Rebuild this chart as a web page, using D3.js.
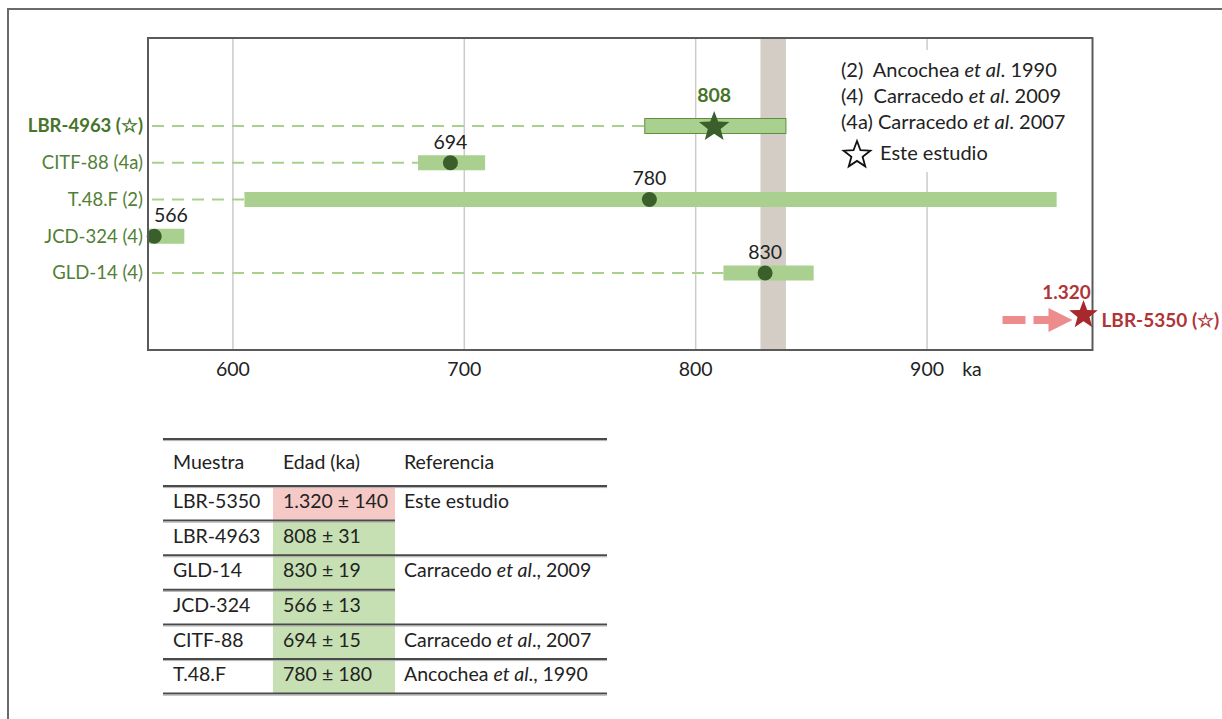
<!DOCTYPE html>
<html><head><meta charset="utf-8">
<script src="https://cdn.jsdelivr.net/npm/d3@7/dist/d3.min.js"></script>
<style>
html,body{margin:0;padding:0;background:#fff;}
svg{display:block;font-family:Lato,"Open Sans",sans-serif;}
</style></head>
<body><svg id="c" width="1222" height="719"></svg>
<script>
// ---- data ----
const xTicks = [600, 700, 800, 900];
const sampleLabels = ["LBR-4963 (☆)", "CITF-88 (4a)", "T.48.F (2)", "JCD-324 (4)", "GLD-14 (4)"];
const ages = [808, 694, 780, 566, 830];
const barLo = [778, 680, 605, 553, 812];
const barHi = [839, 709, 956, 579, 851];
const isThisStudy = [true, false, false, false, false];
const bandRange = [828, 839];
const offLabel = "LBR-5350 (☆)";
const offValueText = "1.320";
const legendLines = [
  ["(2)  Ancochea ", "et al", ". 1990"],
  ["(4)  Carracedo ", "et al", ". 2009"],
  ["(4a) Carracedo ", "et al", ". 2007"]
];
const legendStarText = "Este estudio";
const tableHeader = ["Muestra", "Edad (ka)", "Referencia"];
const tSamples = ["LBR-5350", "LBR-4963", "GLD-14", "JCD-324", "CITF-88", "T.48.F"];
const tAges = ["1.320 ± 140", "808 ± 31", "830 ± 19", "566 ± 13", "694 ± 15", "780 ± 180"];
const tRefs = [["Este estudio"], [], ["Carracedo ", "et al", "., 2009"], [], ["Carracedo ", "et al", "., 2007"], ["Ancochea ", "et al", "., 1990"]];
const tAgeFill = ["pink", "green", "green", "green", "green", "green"];

// ---- styles ----
const C = {
  bar: "#a9d08e", barStroke: "#5e8f3f", point: "#3a5f2a", lbl: "#527f36", lblBold: "#46752a",
  band: "#d3cdc6", grid: "#cbcbcb", frame: "#5a5a5a", text: "#222",
  red: "#a7282d", redText: "#b03438", arrow: "#ec8c8c", pink: "#f5c9c6", green: "#c6e0b3"
};
const FS = {val: 19.5, axis: 19.5, ylab: 18.5, legend: 20, table: 19.5, off: 19};

const svg = d3.select("#c");
svg.append("rect").attr("x", 8).attr("y", 9).attr("width", 1300).attr("height", 800)
  .attr("fill", "none").attr("stroke", "#6a6a6a").attr("stroke-width", 2);

const P = {l: 148, r: 1092.5, t: 38, b: 350};
const x = d3.scaleLinear().domain([563.3, 971.5]).range([P.l, P.r]);
const y = d3.scalePoint().domain(d3.range(sampleLabels.length)).range([126, 273]);
const yOff = 319;

function starPath(R) {
  const r = R * 0.42, pts = [];
  for (let i = 0; i < 10; i++) {
    const a = -Math.PI / 2 + i * Math.PI / 5, rr = i % 2 ? r : R;
    pts.push([rr * Math.cos(a), rr * Math.sin(a)]);
  }
  return "M" + pts.map(p => p.join(",")).join("L") + "Z";
}

// band
svg.append("rect").attr("x", x(bandRange[0])).attr("y", P.t)
  .attr("width", x(bandRange[1]) - x(bandRange[0])).attr("height", P.b - P.t).attr("fill", C.band);
// grid
svg.selectAll(".g").data(xTicks).enter().append("line")
  .attr("x1", d => x(d)).attr("x2", d => x(d)).attr("y1", P.t).attr("y2", P.b)
  .attr("stroke", C.grid).attr("stroke-width", 1.5);

// legend (white box covers gridline)
const lg = svg.append("g");
lg.append("rect").attr("x", 832).attr("y", 50).attr("width", 245).attr("height", 122).attr("fill", "#fff");
legendLines.forEach((ln, i) => {
  const t = lg.append("text").attr("x", 841).attr("y", 70 + i * 26).attr("dy", "0.35em")
    .attr("font-size", FS.legend).attr("fill", C.text).attr("xml:space", "preserve");
  t.append("tspan").text(ln[0]);
  t.append("tspan").attr("font-style", "italic").text(ln[1]);
  t.append("tspan").text(ln[2]);
});
lg.append("path").attr("d", starPath(14)).attr("transform", "translate(857,155)")
  .attr("fill", "none").attr("stroke", "#111").attr("stroke-width", 1.8);
lg.append("text").attr("x", 880).attr("y", 153).attr("dy", "0.35em").attr("font-size", FS.legend)
  .attr("fill", C.text).text(legendStarText);

// dashed leaders
const idx = d3.range(sampleLabels.length);
svg.selectAll(".dash").data(idx.filter(i => x(barLo[i]) > P.l + 10)).enter().append("line")
  .attr("x1", P.l + 4).attr("x2", i => x(barLo[i])).attr("y1", i => y(i)).attr("y2", i => y(i))
  .attr("stroke", C.bar).attr("stroke-width", 2).attr("stroke-dasharray", "12,8");

// bars
const bh = 15;
svg.selectAll(".bar").data(idx).enter().append("rect")
  .attr("x", i => Math.max(P.l, x(barLo[i]))).attr("width", i => x(barHi[i]) - Math.max(P.l, x(barLo[i])))
  .attr("y", i => y(i) - bh / 2).attr("height", bh).attr("fill", C.bar)
  .attr("stroke", i => isThisStudy[i] ? C.barStroke : "none").attr("stroke-width", 1);

// points
idx.forEach(i => {
  if (isThisStudy[i]) {
    svg.append("path").attr("d", starPath(16)).attr("transform", `translate(${x(ages[i])},${y(i) + 1})`)
      .attr("fill", C.point);
  } else {
    svg.append("circle").attr("cx", x(ages[i])).attr("cy", y(i)).attr("r", 7.5).attr("fill", C.point);
  }
});
// value labels
idx.forEach(i => {
  const t = svg.append("text").attr("y", y(i) - (isThisStudy[i] ? 31 : 21)).attr("dy", "0.35em")
    .attr("font-size", FS.val).text(ages[i])
    .attr("fill", isThisStudy[i] ? C.lblBold : C.text).attr("font-weight", isThisStudy[i] ? "bold" : "normal");
  let cx = x(ages[i]);
  t.attr("x", cx).attr("text-anchor", "middle");
  const w = t.node().getComputedTextLength();
  if (cx - w / 2 < P.l + 6) t.attr("x", P.l + 6).attr("text-anchor", "start");
});

// y labels
svg.selectAll(".yl").data(idx).enter().append("text")
  .attr("x", 143).attr("y", i => y(i)).attr("dy", "0.35em").attr("text-anchor", "end")
  .attr("font-size", FS.ylab).attr("fill", i => isThisStudy[i] ? C.lblBold : C.lbl)
  .attr("font-weight", i => isThisStudy[i] ? "bold" : "normal").text(i => sampleLabels[i]);

// frame
svg.append("rect").attr("x", P.l).attr("y", P.t).attr("width", P.r - P.l).attr("height", P.b - P.t)
  .attr("fill", "none").attr("stroke", C.frame).attr("stroke-width", 2);

// x axis labels
svg.selectAll(".xt").data(xTicks).enter().append("text")
  .attr("x", d => x(d)).attr("y", 369).attr("dy", "0.35em").attr("text-anchor", "middle")
  .attr("font-size", FS.axis).attr("fill", C.text).text(d => d);
svg.append("text").attr("x", 972).attr("y", 369).attr("dy", "0.35em").attr("text-anchor", "middle")
  .attr("font-size", FS.axis).attr("fill", C.text).text("ka");

// off-scale marker
const sx = P.r - 9;
svg.append("line").attr("x1", sx - 81).attr("x2", sx - 58).attr("y1", yOff + 1).attr("y2", yOff + 1)
  .attr("stroke", C.arrow).attr("stroke-width", 8);
svg.append("line").attr("x1", sx - 50).attr("x2", sx - 34).attr("y1", yOff + 1).attr("y2", yOff + 1)
  .attr("stroke", C.arrow).attr("stroke-width", 8);
svg.append("path").attr("d", `M${sx - 35},${yOff - 11}L${sx - 11},${yOff + 1}L${sx - 35},${yOff + 13}Z`).attr("fill", C.arrow);
svg.append("path").attr("d", starPath(15)).attr("transform", `translate(${sx},${yOff - 4})`).attr("fill", C.red);
svg.append("text").attr("x", sx - 17).attr("y", yOff - 27).attr("dy", "0.35em").attr("text-anchor", "middle")
  .attr("font-size", FS.off).attr("font-weight", "bold").attr("fill", C.redText).text(offValueText);
svg.append("text").attr("x", sx + 18).attr("y", yOff + 1).attr("dy", "0.35em")
  .attr("font-size", FS.off).attr("font-weight", "bold").attr("fill", C.redText).text(offLabel);

// ---- table ----
const T = {l: 163, r: 607, c1: 273, c2: 395, top: 439};
const rowH = 34.6, headH = 47;
const rowTop = i => T.top + headH + i * rowH;
const tg = svg.append("g");
tAges.forEach((a, i) => {
  tg.append("rect").attr("x", T.c1).attr("y", rowTop(i)).attr("width", T.c2 - T.c1).attr("height", rowH)
    .attr("fill", tAgeFill[i] === "pink" ? C.pink : C.green);
});
function hline(yy, x2) {
  tg.append("line").attr("x1", T.l).attr("x2", x2).attr("y1", yy).attr("y2", yy)
    .attr("stroke", "#4a4a4a").attr("stroke-width", 2);
  tg.append("line").attr("x1", T.l).attr("x2", x2).attr("y1", yy + 1.6).attr("y2", yy + 1.6)
    .attr("stroke", "#b0b0b0").attr("stroke-width", 1);
}
hline(T.top, T.r);
hline(rowTop(0), T.r);
tSamples.forEach((s, i) => {
  const nextMerged = i + 1 < tSamples.length && tRefs[i + 1].length === 0;
  hline(rowTop(i + 1), nextMerged ? T.c2 : T.r);
});
const colX = [173, 283, 404];
tableHeader.forEach((h, j) => tg.append("text").attr("x", colX[j]).attr("y", T.top + 23).attr("dy", "0.35em")
  .attr("font-size", FS.table).attr("fill", C.text).text(h));
tSamples.forEach((s, i) => {
  const cy = rowTop(i) + rowH / 2 - 2;
  tg.append("text").attr("x", colX[0]).attr("y", cy).attr("dy", "0.35em").attr("font-size", FS.table).attr("fill", C.text).text(s);
  tg.append("text").attr("x", colX[1]).attr("y", cy).attr("dy", "0.35em").attr("font-size", FS.table).attr("fill", C.text).text(tAges[i]);
  if (tRefs[i].length) {
    const t = tg.append("text").attr("x", colX[2]).attr("y", cy).attr("dy", "0.35em").attr("font-size", FS.table)
      .attr("fill", C.text).attr("xml:space", "preserve");
    tRefs[i].forEach((p, k) => t.append("tspan").attr("font-style", k === 1 ? "italic" : "normal").text(p));
  }
});
</script></body></html>
